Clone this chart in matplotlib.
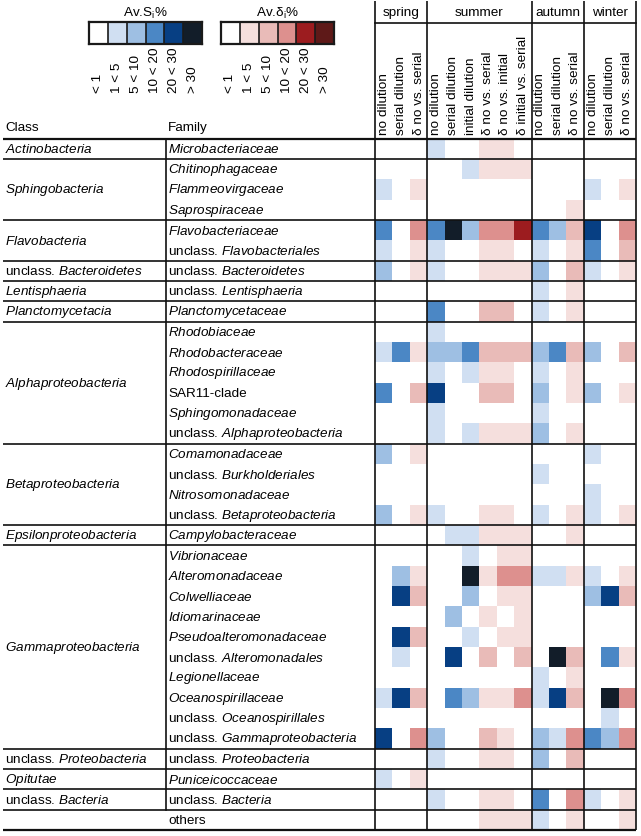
import numpy as np
import matplotlib
matplotlib.use('Agg')
import matplotlib.pyplot as plt
from matplotlib.colors import ListedColormap, BoundaryNorm

plt.rcParams['font.family'] = ['Liberation Sans', 'DejaVu Sans']
plt.rcParams['mathtext.fontset'] = 'custom'
plt.rcParams['mathtext.rm'] = 'Liberation Sans'
plt.rcParams['mathtext.it'] = 'Liberation Sans:italic'

FS = 9.7

# ---------------- data ----------------
seasons = ['spring', 'summer', 'autumn', 'winter']
season_ncols = [3, 6, 3, 3]
col_labels = ['no dilution', 'serial dilution', 'δ no vs. serial',
              'no dilution', 'serial dilution', 'initial dilution',
              'δ no vs. serial', 'δ no vs. initial', 'δ initial vs. serial',
              'no dilution', 'serial dilution', 'δ no vs. serial',
              'no dilution', 'serial dilution', 'δ no vs. serial']
col_is_delta = [0, 0, 1, 0, 0, 0, 1, 1, 1, 0, 0, 1, 0, 0, 1]

legend_labels = ['< 1', '1 < 5', '5 < 10', '10 < 20', '20 < 30', '> 30']
blues = ['#ffffff', '#d0dff2', '#9ebfe3', '#4b87c5', '#073f83', '#121d29']
reds = ['#ffffff', '#f5dfdd', '#e9bbb8', '#dd908e', '#9c1c1f', '#5e1918']


def it(s):
    return r'$\mathit{' + s + '}$'


def uncl(s):
    return 'unclass. ' + it(s)


# class label, number of family rows
class_groups = [
    (it('Actinobacteria'), 1),
    (it('Sphingobacteria'), 3),
    (it('Flavobacteria'), 2),
    (uncl('Bacteroidetes'), 1),
    (it('Lentisphaeria'), 1),
    (it('Planctomycetacia'), 1),
    (it('Alphaproteobacteria'), 6),
    (it('Betaproteobacteria'), 4),
    (it('Epsilonproteobacteria'), 1),
    (it('Gammaproteobacteria'), 10),
    (uncl('Proteobacteria'), 1),
    (it('Opitutae'), 1),
    (uncl('Bacteria'), 1),
    ('', 1),
]

families = [
    it('Microbacteriaceae'),
    it('Chitinophagaceae'), it('Flammeovirgaceae'), it('Saprospiraceae'),
    it('Flavobacteriaceae'), uncl('Flavobacteriales'),
    uncl('Bacteroidetes'),
    uncl('Lentisphaeria'),
    it('Planctomycetaceae'),
    it('Rhodobiaceae'), it('Rhodobacteraceae'), it('Rhodospirillaceae'),
    'SAR11-clade', it('Sphingomonadaceae'), uncl('Alphaproteobacteria'),
    it('Comamonadaceae'), uncl('Burkholderiales'), it('Nitrosomonadaceae'),
    uncl('Betaproteobacteria'),
    it('Campylobacteraceae'),
    it('Vibrionaceae'), it('Alteromonadaceae'), it('Colwelliaceae'),
    it('Idiomarinaceae'), it('Pseudoalteromonadaceae'), uncl('Alteromonadales'),
    it('Legionellaceae'), it('Oceanospirillaceae'), uncl('Oceanospirillales'),
    uncl('Gammaproteobacteria'),
    uncl('Proteobacteria'),
    it('Puniceicoccaceae'),
    uncl('Bacteria'),
    'others',
]

# class levels 0..5 (<1, 1-5, 5-10, 10-20, 20-30, >30)
levels = [
    [0, 0, 0, 1, 0, 0, 1, 1, 0, 0, 0, 0, 0, 0, 0],
    [0, 0, 0, 0, 0, 1, 1, 1, 1, 0, 0, 0, 0, 0, 0],
    [1, 0, 1, 0, 0, 0, 0, 0, 0, 0, 0, 0, 1, 0, 1],
    [0, 0, 0, 0, 0, 0, 0, 0, 0, 0, 0, 1, 0, 0, 0],
    [3, 0, 3, 3, 5, 2, 3, 3, 4, 3, 2, 2, 4, 0, 3],
    [1, 0, 1, 1, 0, 0, 1, 1, 0, 1, 0, 1, 3, 0, 2],
    [2, 0, 1, 1, 0, 0, 1, 1, 1, 2, 0, 2, 1, 0, 1],
    [0, 0, 0, 0, 0, 0, 0, 0, 0, 1, 0, 1, 0, 0, 0],
    [0, 0, 0, 3, 0, 0, 2, 2, 0, 1, 0, 1, 0, 0, 0],
    [0, 0, 0, 1, 0, 0, 0, 0, 0, 0, 0, 0, 0, 0, 0],
    [1, 3, 1, 2, 2, 3, 2, 2, 2, 2, 3, 2, 2, 0, 2],
    [0, 0, 0, 1, 0, 1, 1, 1, 0, 1, 0, 1, 0, 0, 0],
    [3, 0, 2, 4, 0, 0, 2, 2, 0, 2, 0, 1, 2, 0, 1],
    [0, 0, 0, 1, 0, 0, 0, 0, 0, 1, 0, 0, 0, 0, 0],
    [0, 0, 0, 1, 0, 1, 1, 1, 1, 2, 0, 1, 0, 0, 0],
    [2, 0, 1, 0, 0, 0, 0, 0, 0, 0, 0, 0, 1, 0, 0],
    [0, 0, 0, 0, 0, 0, 0, 0, 0, 1, 0, 0, 0, 0, 0],
    [0, 0, 0, 0, 0, 0, 0, 0, 0, 0, 0, 0, 1, 0, 0],
    [2, 0, 1, 1, 0, 0, 1, 1, 0, 1, 0, 1, 1, 0, 1],
    [0, 0, 0, 0, 1, 1, 1, 1, 1, 0, 0, 1, 0, 0, 0],
    [0, 0, 0, 0, 0, 1, 0, 1, 1, 0, 0, 0, 0, 0, 0],
    [0, 2, 1, 0, 0, 5, 1, 3, 3, 1, 1, 1, 1, 0, 1],
    [0, 4, 2, 0, 0, 2, 0, 1, 1, 0, 0, 0, 2, 4, 2],
    [0, 0, 0, 0, 2, 0, 1, 0, 1, 0, 0, 0, 0, 0, 0],
    [0, 4, 2, 0, 0, 1, 0, 1, 1, 0, 0, 0, 0, 0, 0],
    [0, 1, 0, 0, 4, 0, 2, 0, 2, 0, 5, 2, 0, 3, 1],
    [0, 0, 0, 0, 0, 0, 0, 0, 0, 1, 0, 1, 0, 0, 0],
    [1, 4, 2, 0, 3, 2, 1, 1, 3, 1, 4, 2, 0, 5, 3],
    [0, 0, 0, 0, 0, 0, 0, 0, 0, 0, 0, 0, 0, 1, 0],
    [4, 0, 3, 2, 0, 0, 2, 1, 0, 2, 1, 3, 3, 2, 3],
    [0, 0, 0, 1, 0, 0, 1, 1, 0, 2, 0, 2, 0, 0, 0],
    [1, 0, 1, 0, 0, 0, 0, 0, 0, 0, 0, 0, 0, 0, 0],
    [0, 0, 0, 1, 0, 0, 1, 1, 0, 3, 0, 3, 1, 0, 1],
    [0, 0, 0, 0, 0, 0, 1, 1, 1, 1, 0, 1, 0, 0, 1],
]

# ---------------- layout ----------------
W, H = 641, 837
fig = plt.figure(figsize=(W / 100, H / 100), dpi=100)

tab_top, tab_bot = 139.5, 831.0
heat_left, heat_right = 375.0, 636.0
nrows, ncols = len(families), len(col_labels)
rh = (tab_bot - tab_top) / nrows
cw = (heat_right - heat_left) / ncols

L = np.array(levels)
delta_mask = np.tile(np.array(col_is_delta) == 1, (nrows, 1))
norm = BoundaryNorm(np.arange(-0.5, 6.5, 1), 6)

ax_heat = fig.add_axes([heat_left / W, 1 - tab_bot / H,
                        (heat_right - heat_left) / W, (tab_bot - tab_top) / H])
ax_heat.pcolormesh(np.arange(ncols + 1), np.arange(nrows + 1),
                   np.ma.masked_where(delta_mask, L),
                   cmap=ListedColormap(blues), norm=norm, shading='flat')
ax_heat.pcolormesh(np.arange(ncols + 1), np.arange(nrows + 1),
                   np.ma.masked_where(~delta_mask, L),
                   cmap=ListedColormap(reds), norm=norm, shading='flat')
ax_heat.set_xlim(0, ncols)
ax_heat.set_ylim(nrows, 0)
ax_heat.axis('off')


# legends
def legend_box(x0, x1, y0, y1, cols, title):
    axl = fig.add_axes([x0 / W, 1 - y1 / H, (x1 - x0) / W, (y1 - y0) / H])
    axl.pcolormesh(np.arange(7), [0, 1], np.arange(6)[None, :],
                   cmap=ListedColormap(cols), norm=norm, shading='flat')
    axl.set_xlim(0, 6)
    axl.set_ylim(0, 1)
    axl.vlines(np.arange(1, 6), 0, 1, color='#1a1a1a', lw=1.2)
    axl.set_xticks([])
    axl.set_yticks([])
    for sp in axl.spines.values():
        sp.set_linewidth(1.6)
        sp.set_color('#1a1a1a')
    bw = (x1 - x0) / 6
    for k, lab in enumerate(legend_labels):
        fig.text((x0 + (k + 0.5) * bw) / W, 1 - 93 / H, lab, rotation=90,
                 ha='center', va='bottom', fontsize=FS)
    fig.text((x0 + x1) / 2 / W, 1 - 13 / H, title, ha='center',
             va='center', fontsize=FS)


legend_box(89, 202, 23, 45, blues, r'Av.S$_\mathregular{i}$%')
legend_box(221, 334, 23, 45, reds, r'Av.δ$_\mathregular{i}$%')

# overlay for table text and lines
ax = fig.add_axes([0, 0, 1, 1], zorder=5)
ax.set_xlim(0, W)
ax.set_ylim(H, 0)
ax.axis('off')
ax.patch.set_alpha(0)

lc = '#111111'
# group lines
bounds = np.concatenate([[0], np.cumsum([n for _, n in class_groups])])
for b in bounds:
    lw = 1.6 if b in (0, nrows) else 1.2
    ax.plot([3, heat_right], [tab_top + b * rh] * 2, color=lc, lw=lw,
            solid_capstyle='butt')
# class/family divider
ax.plot([166, 166], [tab_top, tab_top + (nrows - 1) * rh], color=lc, lw=1.2)
# season verticals
sedges = heat_left + np.concatenate([[0], np.cumsum(season_ncols)]) * cw
for xe in sedges:
    ax.plot([xe, xe], [2, tab_bot], color=lc, lw=1.2, solid_capstyle='butt')
ax.plot([heat_left, heat_right], [24, 24], color=lc, lw=1.2)

for k, s in enumerate(seasons):
    ax.text((sedges[k] + sedges[k + 1]) / 2, 13, s, ha='center',
            va='center', fontsize=FS)
for j, lab in enumerate(col_labels):
    ax.text(heat_left + (j + 0.5) * cw, 135, lab, rotation=90,
            ha='center', va='bottom', fontsize=FS)

ax.text(5, 128, 'Class', ha='left', va='center', fontsize=FS)
ax.text(168, 128, 'Family', ha='left', va='center', fontsize=FS)

for g, (lab, n) in enumerate(class_groups):
    yc = tab_top + (bounds[g] + n / 2) * rh
    ax.text(5, yc, lab, ha='left', va='center', fontsize=FS)
for i, fam in enumerate(families):
    ax.text(168, tab_top + (i + 0.5) * rh, fam, ha='left', va='center',
            fontsize=FS)

fig.savefig('out.png', dpi=100)
